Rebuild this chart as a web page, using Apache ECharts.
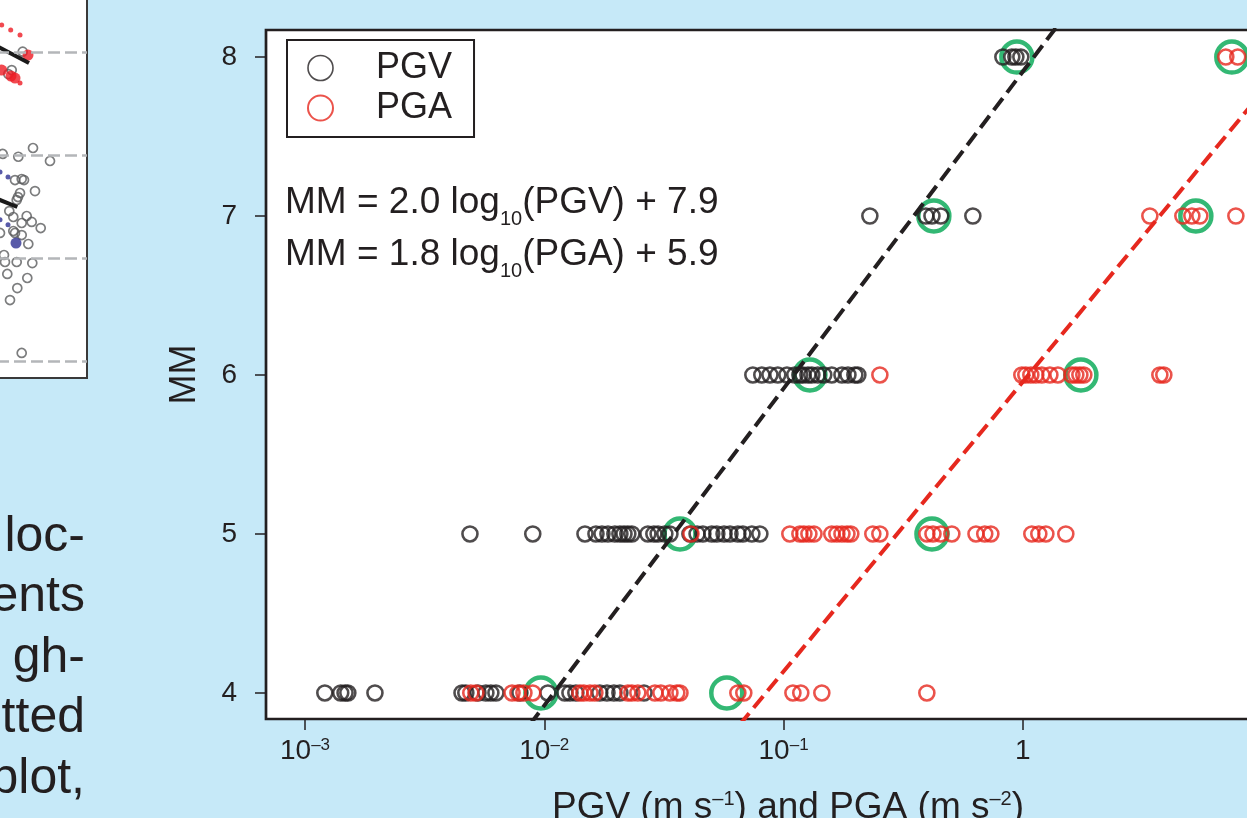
<!DOCTYPE html>
<html>
<head>
<meta charset="utf-8">
<script src="https://cdn.jsdelivr.net/npm/echarts@6/dist/echarts.min.js"></script>
<style>
html,body{margin:0;padding:0;background:#c6e9f8;}
#c{width:1247px;height:818px;}
</style>
</head>
<body>
<div id="c"></div>
<script>
// ---------------- data ----------------
const MM_TICKS = [4, 5, 6, 7, 8];
const X_TICKS = [0.001, 0.01, 0.1, 1];

// PGV (m/s) observations, one array per MM level
const pgvMM4 = [0.00121, 0.00141, 0.00147, 0.00151, 0.00196, 0.00453, 0.0047, 0.00528, 0.0057, 0.00598, 0.00628, 0.00791, 0.01035, 0.01219, 0.0128, 0.01355, 0.01706, 0.01828, 0.01954, 0.0207, 0.0261];
const pgvMM5 = [0.00489, 0.00895, 0.01479, 0.01644, 0.01742, 0.01845, 0.01972, 0.0207, 0.02153, 0.02234, 0.02323, 0.0271, 0.0287, 0.0299, 0.0319, 0.0335, 0.0406, 0.0435, 0.046, 0.0501, 0.0526, 0.0564, 0.0597, 0.0644, 0.0676, 0.0737, 0.0796];
const pgvMM6 = [0.0744, 0.0811, 0.0877, 0.0946, 0.1033, 0.1114, 0.117, 0.1205, 0.1264, 0.1313, 0.139, 0.1472, 0.159, 0.1754, 0.1858, 0.1986, 0.2044];
const pgvMM7 = [0.2294, 0.3932, 0.417, 0.454, 0.618];
const pgvMM8 = [0.825, 0.899, 0.935, 0.981];

// PGA (m/s^2) observations, one array per MM level
const pgaMM4 = [0.00493, 0.00518, 0.00733, 0.00776, 0.00822, 0.00895, 0.01409, 0.01464, 0.01552, 0.01627, 0.02234, 0.02323, 0.0246, 0.029, 0.0307, 0.0335, 0.0358, 0.0369, 0.0644, 0.0682, 0.1094, 0.118, 0.1445, 0.397];
const pgaMM5 = [0.041, 0.1062, 0.117, 0.1216, 0.1276, 0.134, 0.159, 0.167, 0.1754, 0.184, 0.191, 0.236, 0.2526, 0.397, 0.421, 0.454, 0.505, 0.637, 0.693, 0.735, 1.09, 1.166, 1.248, 1.512];
const pgaMM6 = [0.2526, 0.99, 1.029, 1.08, 1.133, 1.2, 1.297, 1.401, 1.603, 1.665, 1.731, 1.798, 3.737, 3.883];
const pgaMM7 = [3.394, 4.663, 5.085, 5.492, 7.766];
const pgaMM8 = [7.05, 7.91];

// highlighted (green) values per MM level 4..8
const greenPGV = [0.00968, 0.0369, 0.1288, 0.4246, 0.944];
const greenPGA = [0.0579, 0.417, 1.748, 5.284, 7.47];

// fitted lines (end points)
const fitPGV = [[0.0087, 3.80], [1.40, 8.20]];
const fitPGA = [[0.0655, 3.80], [17.0, 8.20]];

// neighbouring (clipped) panel on the left
const leftGray = [[22.7,8.006],[11.7,7.828],[8.3,7.789],[2.7,7.013],[18.3,6.986],[33,7.071],[50,6.945],[15,6.760],[21.7,6.770],[24,6.760],[35,6.653],[20,6.634],[18,6.595],[16.7,6.566],[9.3,6.459],[13.3,6.401],[26.7,6.411],[31.7,6.353],[21.7,6.343],[40.7,6.294],[0,6.246],[13.3,6.265],[15,6.246],[21.7,6.226],[28.3,6.139],[4,6.032],[5,5.964],[16.7,5.964],[32.3,5.954],[7.3,5.848],[27.3,5.809],[17.3,5.711],[10,5.595],[21.7,5.081]];
const leftRedSmall = [[1.7,8.265],[10.7,8.217],[20,8.168],[20,7.702]];
const leftRedBig = [[28,7.974],[1.7,7.828],[11,7.77],[15,7.75]];
const leftBlueSmall = [[0,6.839],[8,6.79],[0,6.374],[8,6.325]];
const leftBlueBig = [[16,6.148]];
const leftLine1 = [[-3,8.06],[29,7.896]];
const leftLine2 = [[-3,6.578],[17.3,6.498]];
const leftLevels = [8, 7, 6, 5];

const leftTextLines = ['loc-', 'ents', 'gh-', 'tted', 'plot,'];
const eq1 = ['MM = 2.0 log', '10', '(PGV) + 7.9'];
const eq2 = ['MM = 1.8 log', '10', '(PGA) + 5.9'];

// ---------------- styling ----------------
const FONT = '"Liberation Sans", Arial, Helvetica, sans-serif';
const INK = '#231f20';
const RED = '#e6281e';
const GREEN = '#00a651';

const pgvRows = [pgvMM4, pgvMM5, pgvMM6, pgvMM7, pgvMM8];
const pgaRows = [pgaMM4, pgaMM5, pgaMM6, pgaMM7, pgaMM8];
function toPairs(rows) {
  const out = [];
  rows.forEach((arr, i) => arr.forEach(v => out.push([v, MM_TICKS[i]])));
  return out;
}
const greenData = greenPGV.map((v, i) => [v, MM_TICKS[i]]).concat(greenPGA.map((v, i) => [v, MM_TICKS[i]]));

function xLabel(v) {
  const e = Math.round(Math.log10(v));
  if (e === 0) return '{a|1}';
  return '{a|10}{sup|' + (e < 0 ? '\u2013' : '') + Math.abs(e) + '}';
}

const graphics = [];
const LT_BASE_Y = 537, LT_STEP = 60.5;
leftTextLines.forEach((t, i) => {
  graphics.push({
    type: 'text', x: 85, y: LT_BASE_Y + i * LT_STEP, silent: true,
    style: { text: t, fill: INK, font: '50px ' + FONT, align: 'right', verticalAlign: 'middle' }
  });
});

const eqTitles = [eq1, eq2].map((eq, i) => ({
  text: '{a|' + eq[0] + '}{s|' + eq[1] + '}{a|' + eq[2] + '}',
  left: 285, top: 184 + i * 52, padding: 0, itemGap: 0, z: 50,
  textStyle: {
    fontWeight: 'normal',
    rich: {
      a: { fontSize: 37, fontFamily: FONT, fontWeight: 'normal', color: INK, verticalAlign: 'top' },
      s: { fontSize: 20, fontFamily: FONT, fontWeight: 'normal', color: INK, verticalAlign: 'top', padding: [25, 0, 0, 0] }
    }
  }
}));

const chart = echarts.init(document.getElementById('c'), null, { renderer: 'canvas', width: 1247, height: 818 });

const option = {
  backgroundColor: '#c6e9f8',
  animation: false,
  textStyle: { fontFamily: FONT },
  title: eqTitles,
  grid: [
    { left: 266, top: 30, width: 1044, height: 689, show: true, backgroundColor: '#ffffff',
      borderColor: INK, borderWidth: 2.7, containLabel: false, outerBoundsMode: 'none' },
    { left: -3, top: -3, width: 90, height: 381, show: true, backgroundColor: '#ffffff',
      borderColor: '#3a3a3a', borderWidth: 2, containLabel: false, outerBoundsMode: 'none' }
  ],
  xAxis: [
    {
      type: 'log', logBase: 10, gridIndex: 0, min: 0.000687, max: 15.85,
      axisLine: { show: false }, splitLine: { show: false }, minorTick: { show: false }, minorSplitLine: { show: false },
      axisTick: { show: true, length: 11, customValues: X_TICKS, lineStyle: { color: INK, width: 1.5 } },
      axisLabel: {
        show: true, customValues: X_TICKS, margin: 18, formatter: xLabel,
        rich: {
          a: { fontSize: 28, fontFamily: FONT, color: INK, lineHeight: 30, verticalAlign: 'top' },
          sup: { fontSize: 17, fontFamily: FONT, color: INK, lineHeight: 20, verticalAlign: 'top' }
        }
      },
      name: '{a|PGV (m s}{sup|\u20131}{a|) and PGA (m s}{sup|\u20132}{a|)}',
      nameLocation: 'middle', nameGap: 70,
      nameTextStyle: {
        rich: {
          a: { fontSize: 37, fontFamily: FONT, color: INK, lineHeight: 40, verticalAlign: 'top' },
          sup: { fontSize: 20, fontFamily: FONT, color: INK, lineHeight: 20, verticalAlign: 'top' }
        }
      }
    },
    { type: 'value', gridIndex: 1, min: -3, max: 87, show: false }
  ],
  yAxis: [
    {
      type: 'value', gridIndex: 0, min: 3.836, max: 8.17,
      axisLine: { show: false }, splitLine: { show: false },
      axisTick: { show: true, length: 11, customValues: MM_TICKS, lineStyle: { color: INK, width: 1.5 } },
      axisLabel: { show: true, customValues: MM_TICKS, margin: 29, fontSize: 28, fontFamily: FONT, color: INK },
      name: 'MM', nameLocation: 'middle', nameGap: 63,
      nameTextStyle: { fontSize: 36, fontFamily: FONT, color: INK }
    },
    { type: 'value', gridIndex: 1, min: 4.838, max: 8.537, show: false }
  ],
  legend: {
    data: [
      { name: 'PGV', icon: 'circle', itemStyle: { color: 'transparent', borderColor: INK, borderWidth: 1.6 } },
      { name: 'PGA', icon: 'circle', itemStyle: { color: 'transparent', borderColor: RED, borderWidth: 2 } }
    ],
    orient: 'vertical', left: 287, top: 40,
    itemWidth: 25, itemHeight: 25, itemGap: 0,
    padding: [8, 22, 9, 20],
    borderColor: INK, borderWidth: 2, borderRadius: 0, backgroundColor: '#ffffff',
    selectedMode: false, z: 40,
    textStyle: { fontSize: 36, fontFamily: FONT, color: INK, lineHeight: 40, padding: [0, 0, 0, 38] }
  },
  series: [
    // left clipped panel
    {
      type: 'scatter', xAxisIndex: 1, yAxisIndex: 1, silent: true, data: leftGray,
      symbol: 'circle', symbolSize: 9,
      itemStyle: { color: 'transparent', borderColor: '#5b5c5e', borderWidth: 1.7 },
      markLine: {
        silent: true, symbol: 'none', label: { show: false },
        lineStyle: { type: [12, 5], color: '#b4b6b9', width: 2.5 },
        data: leftLevels.map(v => ({ yAxis: v }))
      }
    },
    { type: 'scatter', xAxisIndex: 1, yAxisIndex: 1, silent: true, data: leftRedSmall, symbol: 'circle', symbolSize: 5, itemStyle: { color: '#ed1c24' } },
    { type: 'scatter', xAxisIndex: 1, yAxisIndex: 1, silent: true, data: leftRedBig, symbol: 'circle', symbolSize: 11, itemStyle: { color: '#ed1c24' } },
    { type: 'scatter', xAxisIndex: 1, yAxisIndex: 1, silent: true, data: leftBlueSmall, symbol: 'circle', symbolSize: 5, itemStyle: { color: '#2e3192' } },
    { type: 'scatter', xAxisIndex: 1, yAxisIndex: 1, silent: true, data: leftBlueBig, symbol: 'circle', symbolSize: 11, itemStyle: { color: '#2e3192' } },
    { type: 'line', xAxisIndex: 1, yAxisIndex: 1, silent: true, data: leftLine1, symbol: 'none', lineStyle: { color: '#1a1a1a', width: 4 } },
    { type: 'line', xAxisIndex: 1, yAxisIndex: 1, silent: true, data: leftLine2, symbol: 'none', lineStyle: { color: '#1a1a1a', width: 4 } },
    // main panel
    {
      name: 'highlight', type: 'scatter', xAxisIndex: 0, yAxisIndex: 0, silent: true, z: 2,
      data: greenData, symbol: 'circle', symbolSize: 31,
      itemStyle: { color: 'transparent', borderColor: GREEN, borderWidth: 4.5 }
    },
    {
      name: 'PGV', type: 'scatter', xAxisIndex: 0, yAxisIndex: 0, silent: true, z: 3,
      data: toPairs(pgvRows), symbol: 'circle', symbolSize: 15,
      itemStyle: { color: 'transparent', borderColor: INK, borderWidth: 2.6 }
    },
    {
      name: 'PGA', type: 'scatter', xAxisIndex: 0, yAxisIndex: 0, silent: true, z: 4,
      data: toPairs(pgaRows), symbol: 'circle', symbolSize: 15,
      itemStyle: { color: 'transparent', borderColor: RED, borderWidth: 2.6 }
    },
    {
      name: 'fitPGV', type: 'line', xAxisIndex: 0, yAxisIndex: 0, silent: true, z: 5, clip: true,
      data: fitPGV, symbol: 'none', lineStyle: { color: INK, width: 4, type: [15, 7] }
    },
    {
      name: 'fitPGA', type: 'line', xAxisIndex: 0, yAxisIndex: 0, silent: true, z: 5, clip: true,
      data: fitPGA, symbol: 'none', lineStyle: { color: RED, width: 4, type: [15, 7] }
    }
  ],
  graphic: graphics
};
chart.setOption(option);
</script>
</body>
</html>
